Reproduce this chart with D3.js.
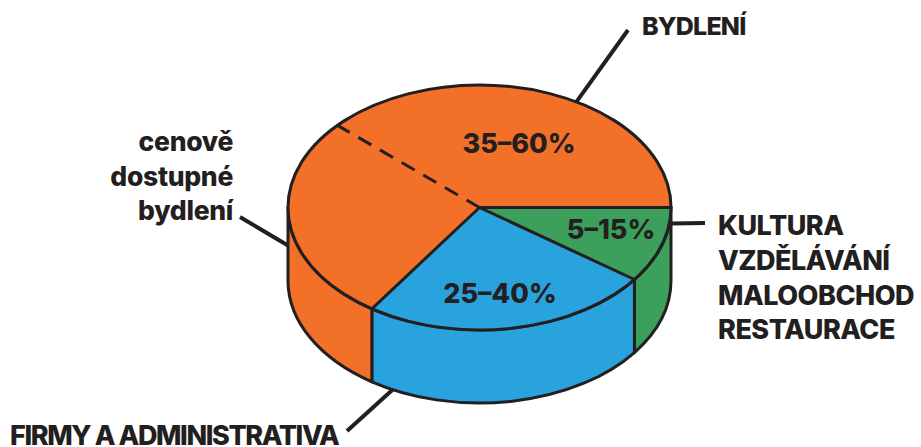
<!DOCTYPE html>
<html>
<head>
<meta charset="utf-8">
<script src="https://cdn.jsdelivr.net/npm/d3@7"></script>
<style>
  body { margin: 0; background: #fff; }
  svg { display: block; }
  text { font-family: Inter, "Noto Sans", sans-serif; font-weight: 800; fill: #231f20; }
</style>
</head>
<body>
<div id="chart"></div>
<script>
// slice shares as drawn (percent of the disc), clockwise from the right edge
var sliceNames = ["kultura", "firmy", "dostupne", "bydleni"];
var sliceShares = [10, 24.5, 27.2, 38.3];
var sliceGroups = ["green", "blue", "orange", "orange"];
var groupColors = { green: "#3ca05c", blue: "#29a3dd", orange: "#f37029" };

// range labels printed on top of the disc
var rangeLabels = ["5–15%", "25–40%", "35–60%"];

// outside labels
var bydleniLabel = ["BYDLENÍ"];
var kulturaLabel = ["KULTURA", "VZDĚLÁVÁNÍ", "MALOOBCHOD", "RESTAURACE"];
var firmyLabel = ["FIRMY A ADMINISTRATIVA"];
var dostupneLabel = ["cenově", "dostupné", "bydlení"];

var W = 921, H = 447;
var cx = 479.5, cy = 207.5, rx = 191.5, ry = 122.5, depth = 73;
var ink = "#231f20";

var svg = d3.select("#chart").append("svg")
    .attr("width", W)
    .attr("height", H);

// d3 angle: 0 at 12 o'clock, clockwise
function pt(a, dy) {
    return [cx + rx * Math.sin(a), cy - ry * Math.cos(a) + (dy || 0)];
}

var pie = d3.pie().sort(null)
    .startAngle(Math.PI / 2)
    .endAngle(Math.PI / 2 + 2 * Math.PI);
var arcs = pie(sliceShares);
arcs.forEach(function(d, i) { d.group = sliceGroups[i]; d.name = sliceNames[i]; });

function arcFlag(a0, a1) { return (a1 - a0) > Math.PI ? 1 : 0; }

// sides (only the front half is visible)
var sides = svg.append("g");
arcs.forEach(function(d) {
    var a0 = Math.max(d.startAngle, Math.PI / 2);
    var a1 = Math.min(d.endAngle, 3 * Math.PI / 2);
    if (a1 <= a0) return;
    var p0 = pt(a0), p1 = pt(a1), q1 = pt(a1, depth), q0 = pt(a0, depth);
    var path = "M" + p0 + " A" + rx + " " + ry + " 0 " + arcFlag(a0, a1) + " 1 " + p1 +
        " L" + q1 + " A" + rx + " " + ry + " 0 " + arcFlag(a0, a1) + " 0 " + q0 + " Z";
    sides.append("path")
        .attr("d", path)
        .attr("fill", groupColors[d.group])
        .attr("stroke", ink)
        .attr("stroke-width", 3)
        .attr("stroke-linejoin", "round");
});

// tops
var tops = svg.append("g");
arcs.forEach(function(d) {
    var p0 = pt(d.startAngle), p1 = pt(d.endAngle);
    var path = "M" + cx + "," + cy + " L" + p0 + " A" + rx + " " + ry + " 0 " +
        arcFlag(d.startAngle, d.endAngle) + " 1 " + p1 + " Z";
    tops.append("path")
        .attr("d", path)
        .attr("fill", groupColors[d.group])
        .attr("stroke", groupColors[d.group])
        .attr("stroke-width", 0.8);
});

// radii: solid between groups, dashed inside the housing share
arcs.forEach(function(d, i) {
    var prev = arcs[(i + arcs.length - 1) % arcs.length];
    var same = prev.group === d.group;
    var p = pt(d.startAngle);
    svg.append("line")
        .attr("x1", cx).attr("y1", cy)
        .attr("x2", p[0]).attr("y2", p[1])
        .attr("stroke", ink)
        .attr("stroke-width", 3)
        .attr("stroke-dasharray", same ? "15,10" : null)
        .attr("stroke-linecap", same ? "butt" : "round");
});

svg.append("ellipse")
    .attr("cx", cx).attr("cy", cy)
    .attr("rx", rx).attr("ry", ry)
    .attr("fill", "none")
    .attr("stroke", ink)
    .attr("stroke-width", 3);

// range labels
var pctPos = [[611, 239], [500, 303], [519, 153]];
svg.selectAll(".pct")
    .data(rangeLabels)
    .enter().append("text")
    .attr("class", "pct")
    .attr("x", function(d, i) { return pctPos[i][0]; })
    .attr("y", function(d, i) { return pctPos[i][1]; })
    .attr("text-anchor", "middle")
    .attr("font-size", 27)
    .text(function(d) { return d; });

// leader lines
function leader(p, q) {
    svg.append("line")
        .attr("x1", p[0]).attr("y1", p[1])
        .attr("x2", q[0]).attr("y2", q[1])
        .attr("stroke", ink)
        .attr("stroke-width", 4);
}
leader(pt(30.4 * Math.PI / 180), [628, 30]);
leader(pt(Math.PI / 2, 16), [705, 223]);
leader(pt(207 * Math.PI / 180, depth), [347, 431]);
leader(pt(3 * Math.PI / 2, 38), [240, 217]);

function block(lines, x, y0, step, anchor, size, spacing) {
    svg.append("g").selectAll("text")
        .data(lines)
        .enter().append("text")
        .attr("x", x)
        .attr("y", function(d, i) { return y0 + i * step; })
        .attr("text-anchor", anchor)
        .attr("font-size", size)
        .attr("letter-spacing", spacing || 0)
        .text(function(d) { return d; });
}
block(bydleniLabel, 642, 35, 0, "start", 25, -0.8);
block(kulturaLabel, 718, 235, 34.8, "start", 27, -0.5);
block(firmyLabel, 10, 445, 0, "start", 27, -1.4);
block(dostupneLabel, 233, 151, 34.5, "end", 26.5, -0.3);
</script>
</body>
</html>
